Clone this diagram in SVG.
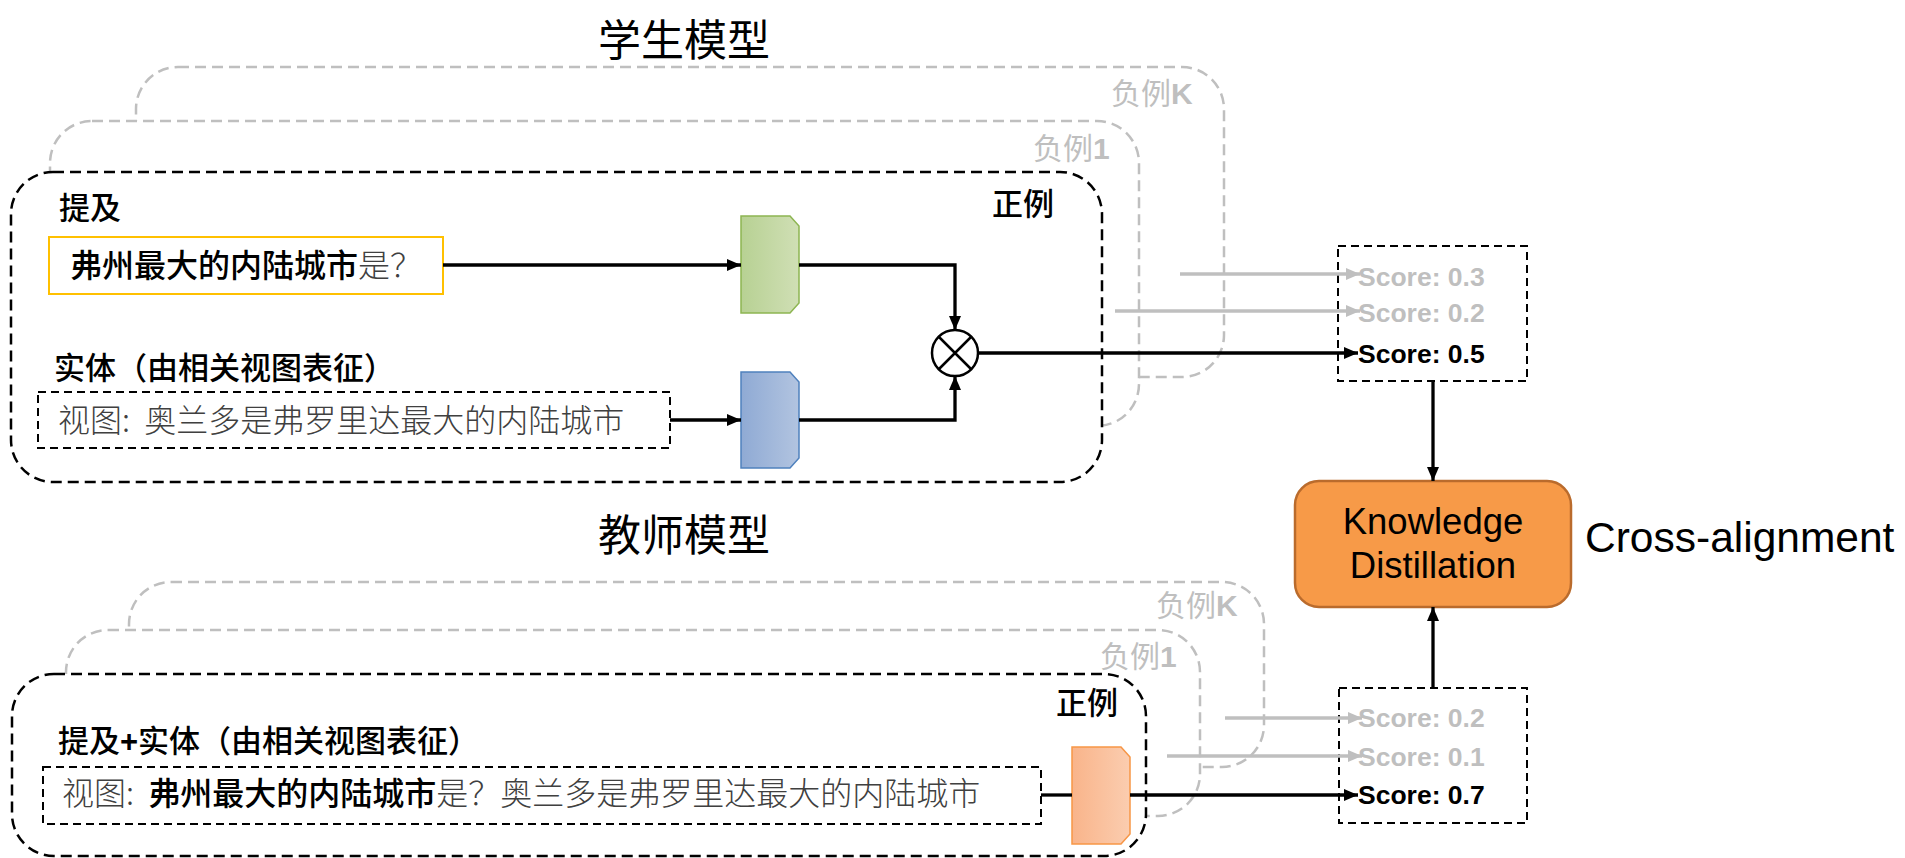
<svg xmlns="http://www.w3.org/2000/svg" width="1905" height="858" viewBox="0 0 1905 858">
<style>
.cjk{font-family:"Noto Sans CJK SC","Noto Sans",sans-serif}
.title{font-size:43px;fill:#000}
.lbl{font-size:31px;font-weight:500;fill:#000}
.neg{font-size:30px;fill:#BFBFBF}
.negk{font-family:"Liberation Sans",Arial,sans-serif;font-weight:bold}
.view{font-size:32px;font-weight:300;fill:#404040}
.bold{font-weight:500;fill:#000}
.score{font-family:"Liberation Sans",Arial,sans-serif;font-weight:bold;font-size:26.5px}
.sgray{fill:#BFBFBF}
.sblack{fill:#000}
.posbox{fill:#fff;stroke:#000;stroke-width:2.5;stroke-dasharray:11 6}
.negbox{fill:#fff;stroke:#BFBFBF;stroke-width:2.5;stroke-dasharray:11 6}
.dbox{fill:none;stroke:#000;stroke-width:2;stroke-dasharray:8 5}
.blk{fill:none;stroke:#000;stroke-width:3.3}
.gry{fill:none;stroke:#BFBFBF;stroke-width:3.3}
.sans{font-family:"Liberation Sans",Arial,sans-serif}
</style>
<defs>
<marker id="ab" markerUnits="userSpaceOnUse" markerWidth="14" markerHeight="12" refX="14" refY="6" orient="auto"><path d="M0,0 L14,6 L0,12 Z" fill="#000"/></marker>
<marker id="ag" markerUnits="userSpaceOnUse" markerWidth="14" markerHeight="12" refX="14" refY="6" orient="auto"><path d="M0,0 L14,6 L0,12 Z" fill="#BFBFBF"/></marker>
<linearGradient id="gG" x1="0" x2="1" y1="0" y2="0"><stop offset="0" stop-color="#B7D193"/><stop offset="1" stop-color="#D0DFB5"/></linearGradient>
<linearGradient id="gB" x1="0" x2="1" y1="0" y2="0"><stop offset="0" stop-color="#8FAAD4"/><stop offset="1" stop-color="#B2C4E0"/></linearGradient>
<linearGradient id="gO" x1="0" x2="1" y1="0" y2="0"><stop offset="0" stop-color="#F9B48A"/><stop offset="1" stop-color="#FBCDB0"/></linearGradient>
</defs>

<g id="student">
<text class="cjk title" x="684" y="56" text-anchor="middle">学生模型</text>
<g id="s-negK"><rect class="negbox" x="136" y="67" width="1088" height="310" rx="42"/><text class="cjk neg" x="1111" y="104">负例<tspan class="negk">K</tspan></text></g>
<g id="s-neg1"><rect class="negbox" x="50" y="121" width="1089" height="305" rx="42"/><text class="cjk neg" x="1033" y="159">负例<tspan class="negk">1</tspan></text></g>
<g id="s-pos"><rect class="posbox" x="11" y="172" width="1091" height="310" rx="42"/><text class="cjk lbl" x="992" y="215">正例</text></g>
<g id="s-mention"><text class="cjk lbl" x="59" y="219">提及</text>
<rect x="49" y="237" width="394" height="57" fill="#fff" stroke="#FFC000" stroke-width="2"/>
<text class="cjk" x="70" y="277" font-size="32"><tspan class="bold">弗州最大的内陆城市</tspan><tspan fill="#404040" font-weight="300">是？</tspan></text></g>
<g id="s-entity"><text class="cjk lbl" x="54" y="379">实体（由相关视图表征）</text>
<rect class="dbox" x="38" y="392" width="632" height="56"/>
<text class="cjk view" x="58" y="432" xml:space="preserve">视图:  奥兰多是弗罗里达最大的内陆城市</text></g>
<g id="s-enc-green"><path d="M741,216 L790,216 L799,226 L799,303 L790,313 L741,313 Z" fill="url(#gG)" stroke="#8DB552" stroke-width="1.5"/></g>
<g id="s-enc-blue"><path d="M741,372 L790,372 L799,382 L799,458 L790,468 L741,468 Z" fill="url(#gB)" stroke="#4F81BD" stroke-width="1.5"/></g>
<g id="s-mult"><circle cx="955" cy="353" r="23" fill="#fff" stroke="#000" stroke-width="2.5"/><path d="M939,337 L971,369 M971,337 L939,369" stroke="#000" stroke-width="2.5"/></g>
<g id="s-score"><rect class="dbox" x="1338" y="246" width="189" height="135" fill="#fff"/>
<text class="score sgray" x="1358" y="286">Score: 0.3</text>
<text class="score sgray" x="1358" y="322">Score: 0.2</text>
<text class="score sblack" x="1358" y="363">Score: 0.5</text></g>
</g>

<g id="kd"><rect x="1295" y="481" width="276" height="126" rx="24" fill="#F79A48" stroke="#BA6B2C" stroke-width="2.5"/>
<text class="sans" x="1433" y="534" font-size="36.5" text-anchor="middle">Knowledge</text>
<text class="sans" x="1433" y="578" font-size="36.5" text-anchor="middle">Distillation</text></g>
<g id="cross"><text class="sans" x="1585" y="552" font-size="42.5">Cross-alignment</text></g>

<g id="teacher">
<text class="cjk title" x="684" y="551" text-anchor="middle">教师模型</text>
<g id="t-negK"><rect class="negbox" x="129" y="582" width="1135" height="185" rx="42"/><text class="cjk neg" x="1156" y="616">负例<tspan class="negk">K</tspan></text></g>
<g id="t-neg1"><rect class="negbox" x="66" y="630" width="1134" height="186" rx="42"/><text class="cjk neg" x="1100" y="667">负例<tspan class="negk">1</tspan></text></g>
<g id="t-pos"><rect class="posbox" x="12" y="674" width="1134" height="182" rx="42"/><text class="cjk lbl" x="1056" y="714">正例</text></g>
<g id="t-input"><text class="cjk lbl" x="58" y="752">提及<tspan class="sans" font-weight="bold">+</tspan>实体（由相关视图表征）</text>
<rect class="dbox" x="43" y="767" width="998" height="57"/>
<text class="cjk view" x="62" y="805" xml:space="preserve">视图:  <tspan class="bold">弗州最大的内陆城市</tspan>是？奥兰多是弗罗里达最大的内陆城市</text></g>
<g id="t-enc"><path d="M1072,747 L1121,747 L1130,757 L1130,834 L1121,844 L1072,844 Z" fill="url(#gO)" stroke="#F79646" stroke-width="1.5"/></g>
<g id="t-score"><rect class="dbox" x="1339" y="688" width="188" height="135" fill="#fff"/>
<text class="score sgray" x="1358" y="727">Score: 0.2</text>
<text class="score sgray" x="1358" y="766">Score: 0.1</text>
<text class="score sblack" x="1358" y="804">Score: 0.7</text></g>
</g>

<g id="connectors">
<path class="blk" d="M443,265 H741" marker-end="url(#ab)"/>
<path class="blk" d="M799,265 H955 V330" marker-end="url(#ab)"/>
<path class="blk" d="M670,420 H741" marker-end="url(#ab)"/>
<path class="blk" d="M799,420 H955 V376" marker-end="url(#ab)"/>
<path class="blk" d="M978,353 H1358" marker-end="url(#ab)"/>
<path class="gry" d="M1180,274 H1360" marker-end="url(#ag)"/>
<path class="gry" d="M1115,311 H1360" marker-end="url(#ag)"/>
<path class="blk" d="M1433,381 V481" marker-end="url(#ab)"/>
<path class="blk" d="M1433,688 V607" marker-end="url(#ab)"/>
<path class="blk" d="M1041,795 H1072"/>
<path class="blk" d="M1130,795 H1358" marker-end="url(#ab)"/>
<path class="gry" d="M1225,718 H1362" marker-end="url(#ag)"/>
<path class="gry" d="M1167,756 H1362" marker-end="url(#ag)"/>
</g>
</svg>
